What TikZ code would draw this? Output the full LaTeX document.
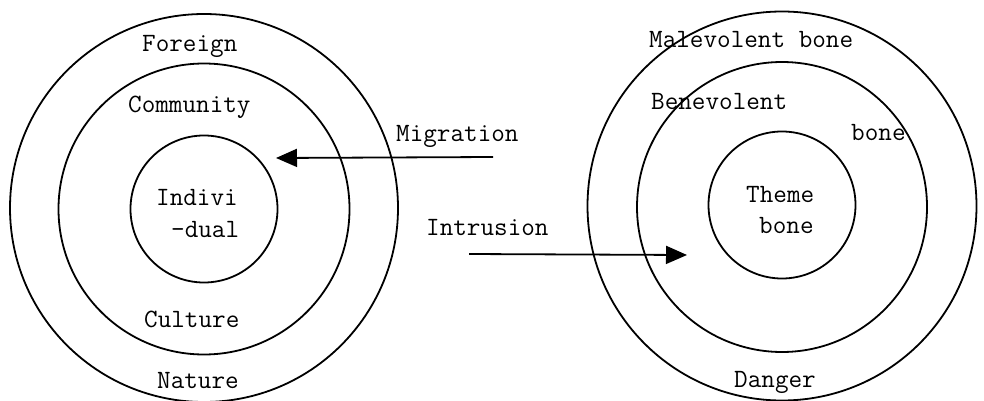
\documentclass[tikz,border=0pt]{standalone}
\usetikzlibrary{arrows.meta}
\tikzset{
  ring/.style={circle, draw, line width=1.8pt, inner sep=0pt},
  lbl/.style={anchor=base west, inner sep=0pt, font=\ttfamily\fontsize{26.4}{32}\selectfont},
  flow/.style={line width=1.8pt, -{Triangle[length=21pt,width=18pt]}}
}
\begin{document}
\begin{tikzpicture}[x=1pt,y=-1pt]
\useasboundingbox (0,0) rectangle (984,401);
% left system of rings
\node[ring, minimum size=388pt] (Lout) at (204,208) {};
\node[ring, minimum size=291pt] (Lmid) at (204,209) {};
\node[ring, minimum size=147pt] (Lin)  at (204,209) {};
% right system of rings
\node[ring, minimum size=389pt] (Rout) at (782,206) {};
\node[ring, minimum size=290pt] (Rmid) at (782,207) {};
\node[ring, minimum size=147pt] (Rin)  at (782,205) {};
% left labels
\node[lbl] (foreign)   at (142,52)  {Foreign};
\node[lbl] (community) at (128,113) {Community};
\node[lbl] (indivi)    at (156,205) {Indivi};
\node[lbl] (dual)      at (171,237) {-dual};
\node[lbl] (culture)   at (144,327) {Culture};
\node[lbl] (nature)    at (157,388) {Nature};
% right labels
\node[lbl] (malev)  at (649,48)  {Malevolent bone};
\node[lbl] (benev)  at (651,110) {Benevolent};
\node[lbl] (bone)   at (851,140) {bone};
\node[lbl] (theme)  at (746,202) {Theme};
\node[lbl] (tbone)  at (759,233) {bone};
\node[lbl] (danger) at (734,387) {Danger};
% movements between the systems
\node[lbl] (migr)  at (396,141) {Migration};
\node[lbl] (intru) at (426,235) {Intrusion};
\coordinate (mStart) at (493,157);
\coordinate (mEnd)   at (276,158);
\coordinate (iStart) at (469,254);
\coordinate (iEnd)   at (687,255);
\draw[flow] (mStart) -- (mEnd);
\draw[flow] (iStart) -- (iEnd);
\end{tikzpicture}
\end{document}
